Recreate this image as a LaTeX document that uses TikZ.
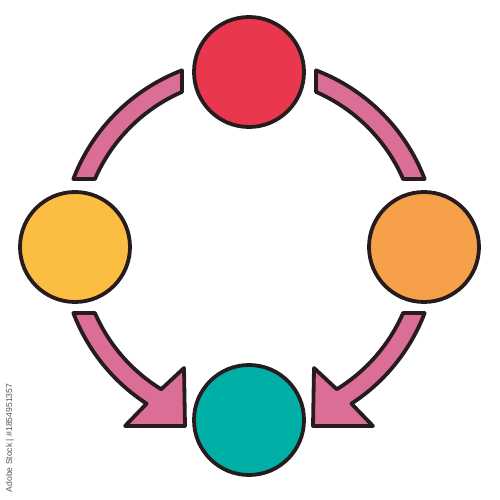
\documentclass[tikz,border=0pt]{standalone}
\usepackage{fontspec}
\newfontfamily\wmfont{Liberation Sans}
\usetikzlibrary{calc}
\definecolor{edgec}{RGB}{38,28,30}
\definecolor{pinkc}{RGB}{219,110,150}
\definecolor{redc}{RGB}{233,55,77}
\definecolor{yelc}{RGB}{252,190,66}
\definecolor{orac}{RGB}{246,160,74}
\definecolor{teac}{RGB}{0,176,166}
\begin{document}
\begin{tikzpicture}[x=1pt,y=1pt,line join=round,
  band/.style={fill=pinkc,draw=edgec,line width=3.8pt},
  ball/.style={circle,draw=edgec,line width=3.8pt,minimum size=110pt,inner sep=0pt}]
\useasboundingbox (0,0) rectangle (500,500);
\def\ro{188}\def\ri{168}
\coordinate (C) at (249,254);
% top-left band
\draw[band] ($(C)+(110.88:\ro)$) arc[start angle=110.88,end angle=159.12,radius=\ro]
  -- ($(C)+(156.5:\ri)$) arc[start angle=156.5,end angle=113.5,radius=\ri] -- cycle;
% top-right band
\draw[band] ($(C)+(69.12:\ro)$) arc[start angle=69.12,end angle=20.88,radius=\ro]
  -- ($(C)+(23.5:\ri)$) arc[start angle=23.5,end angle=66.5,radius=\ri] -- cycle;
% bottom-left arrow
\coordinate (lb) at (125,74);
\coordinate (lt) at (185,74);
\coordinate (lu) at (184,132);
\draw[band] ($(C)+(200.88:\ro)$) arc[start angle=200.88,end angle=237,radius=\ro]
  -- (lb) -- (lt) -- (lu)
  -- ($(C)+(238.5:\ri)$) arc[start angle=238.5,end angle=203.5,radius=\ri] -- cycle;
% bottom-right arrow
\coordinate (rb) at (373,74);
\coordinate (rt) at (313,74);
\coordinate (ru) at (314,132);
\draw[band] ($(C)+(-20.88:\ro)$) arc[start angle=-20.88,end angle=-57,radius=\ro]
  -- (rb) -- (rt) -- (ru)
  -- ($(C)+(-58.5:\ri)$) arc[start angle=-58.5,end angle=-23.5,radius=\ri] -- cycle;
% circles
\node[ball,fill=redc] (top) at (249,428) {};
\node[ball,fill=yelc] (left) at (75,253) {};
\node[ball,fill=orac] (right) at (424,253) {};
\node[ball,fill=teac] (bottom) at (249,80) {};
% watermark id
\node[rotate=90,text=black!65,font=\wmfont\fontsize{8.6}{10}\selectfont,inner sep=0pt] (wm) at (10,62) {Adobe Stock | \#1854951357};
\end{tikzpicture}
\end{document}
